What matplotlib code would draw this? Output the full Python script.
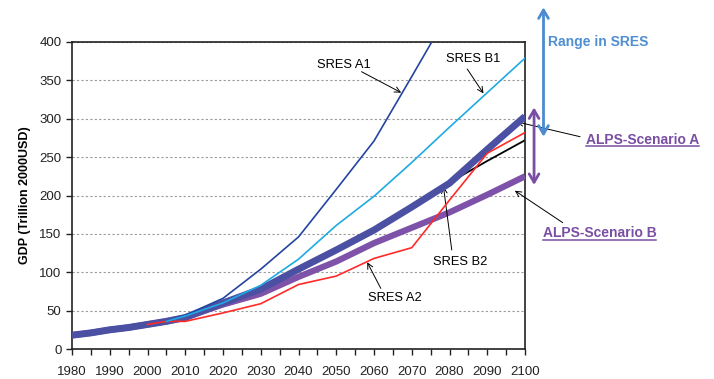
import matplotlib.pyplot as plt
from matplotlib.lines import Line2D

plt.rcParams["font.family"] = ["Liberation Sans", "DejaVu Sans"]

# GDP trajectories (trillion 2000 USD)
hist_years = [1980, 1985, 1990, 1995, 2000, 2005, 2010]
hist_gdp = [18, 21, 25, 28, 32, 36, 41]

dec_years = [2020, 2030, 2040, 2050, 2060, 2070, 2080, 2090, 2100]
sres_a1 = [66, 104, 146, 208, 271, 355, 440]           # leaves the plot after ~2075
sres_b1 = [60, 83, 117, 161, 199, 243, 289, 334, 379]
sres_b2 = [62, 79, 104, 130, 155, 186, 217, 245, 272]
sres_a2 = [47, 59, 84, 95, 118, 132, 194, 255, 282]
alps_a = [60, 78, 104, 129, 155, 185, 216, 260, 303]
alps_b = [58, 72, 94, 114, 138, 158, 178, 201, 225]

a1_2010, b1_2010, b2_2010, a2_2010 = 44, 43, 42, 36

x_ticks = list(range(1980, 2101, 10))
y_ticks = list(range(0, 401, 50))

fig = plt.figure(figsize=(7.14, 3.79), dpi=100)
ax = fig.add_axes([72 / 714, 1 - 349 / 379, 453 / 714, 307 / 379])

yrs_full = hist_years + dec_years
ax.plot(hist_years + dec_years, hist_gdp[:-1] + [b2_2010] + sres_b2, color="black", lw=1.3, zorder=2)
ax.plot(hist_years[4:] + dec_years, hist_gdp[4:-1] + [a2_2010] + sres_a2, color="#ff2a2a", lw=1.2, zorder=4)
ax.plot(yrs_full, hist_gdp + alps_b, color="#7d52a8", lw=4.5, zorder=3, solid_capstyle="butt")
ax.plot(yrs_full, hist_gdp + alps_a, color="#4b50a3", lw=5.0, zorder=3.5, solid_capstyle="butt")
ax.plot([2005, 2010] + dec_years[:len(sres_a1)], [36, a1_2010] + sres_a1, color="#2444a0", lw=1.2, zorder=4)
ax.plot([2005, 2010] + dec_years, [36, b1_2010] + sres_b1, color="#1faae2", lw=1.2, zorder=4)

ax.set_xlim(1980, 2100)
ax.set_ylim(0, 400)
ax.set_xticks(x_ticks)
ax.set_xticks(range(1985, 2100, 10), minor=True)
ax.set_yticks(y_ticks)
ax.tick_params(axis="both", which="both", direction="out", length=4, width=1, labelsize=9.5, colors="#222222")
ax.tick_params(axis="x", pad=8)
ax.grid(axis="y", color="#9a9a9a", linestyle=(0, (2, 2)), lw=0.8)
ax.set_axisbelow(True)
for s in ax.spines.values():
    s.set_linewidth(1.2)
    s.set_color("#222222")
ax.set_ylabel("GDP (Trillion 2000USD)", fontsize=9, fontweight="bold", labelpad=6)

arrow_kw = dict(arrowstyle="->", color="black", lw=0.7, shrinkA=0, shrinkB=0)

# SRES labels
ax.text(2052.1, 370, "SRES A1", fontsize=9.3, ha="center", va="center")
ax.annotate("", xy=(2067.2, 334), xytext=(2056.7, 361.3), arrowprops=arrow_kw)
ax.text(2086.2, 377.5, "SRES B1", fontsize=9.3, ha="center", va="center")
ax.annotate("", xy=(2089.0, 333), xytext=(2084.7, 364.8), arrowprops=arrow_kw)
ax.text(2082.8, 113.7, "SRES B2", fontsize=9.3, ha="center", va="center")
ax.annotate("", xy=(2078.4, 211.5), xytext=(2080.6, 129), arrowprops=arrow_kw)
ax.text(2065.6, 66, "SRES A2", fontsize=9.3, ha="center", va="center")
ax.annotate("", xy=(2058.2, 113), xytext=(2061.8, 79), arrowprops=arrow_kw)

# ALPS labels outside the axes
purple = "#7a4fa3"
ta = ax.text(2116.2, 272.4, "ALPS-Scenario A", fontsize=10, fontweight="bold",
             color=purple, ha="left", va="center", clip_on=False)
ax.annotate("", xy=(2097.8, 296), xytext=(2114.6, 276.6), arrowprops=arrow_kw, annotation_clip=False)
tb = ax.text(2104.7, 150.6, "ALPS-Scenario B", fontsize=10, fontweight="bold",
             color=purple, ha="left", va="center", clip_on=False)
ax.annotate("", xy=(2097.3, 206.3), xytext=(2110, 164.6), arrowprops=arrow_kw, annotation_clip=False)

ax.text(2106.1, 400.4, "Range in SRES", fontsize=10, fontweight="bold",
        color="#4f8fd2", ha="left", va="center", clip_on=False)
ax.annotate("", xy=(2104.9, 445.2), xytext=(2104.9, 276.6), annotation_clip=False,
            arrowprops=dict(arrowstyle="<->,head_width=0.35,head_length=0.6", color="#4a8ccf",
                            lw=2.0, shrinkA=0, shrinkB=0))
ax.annotate("", xy=(2102.4, 314.8), xytext=(2102.4, 213.7), annotation_clip=False,
            arrowprops=dict(arrowstyle="<->,head_width=0.35,head_length=0.6", color=purple,
                            lw=2.0, shrinkA=0, shrinkB=0))

# underline the ALPS labels
fig.canvas.draw()
inv = fig.transFigure.inverted()
for t in (ta, tb):
    bb = t.get_window_extent()
    (x0, y0), (x1, _) = inv.transform([(bb.x0, bb.y0), (bb.x1, bb.y1)])
    fig.add_artist(Line2D([x0, x1], [y0 + 0.002, y0 + 0.002], color=purple, lw=1.1,
                          transform=fig.transFigure))

fig.savefig("out.png", dpi=100)
